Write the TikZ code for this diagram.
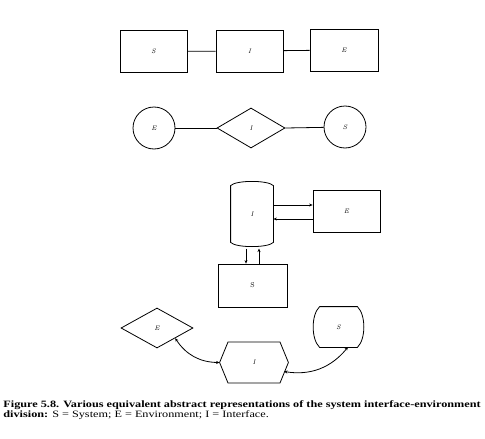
\documentclass[tikz,border=0pt]{standalone}
\usepackage{fontspec}
\newfontfamily\capfont[FakeStretch=1.26]{Liberation Serif}
\usetikzlibrary{shapes.geometric,arrows.meta}
\begin{document}
\begin{tikzpicture}[x=1pt,y=1pt,
  line width=0.8pt,
  >={Stealth[length=3.5pt,width=3pt]},
  lbl/.style={font=\fontsize{6.5}{6.5}\selectfont\itshape},
  boxnode/.style={draw,rectangle,minimum width=67pt,minimum height=42pt,inner sep=0pt,lbl},
  circnode/.style={draw,circle,minimum size=42pt,inner sep=0pt,lbl},
  dmnode/.style={draw,diamond,inner sep=0pt,lbl},
  plain/.style={inner sep=0pt,lbl},
  captxt/.style={anchor=base west,inner sep=0pt,font=\capfont\fontsize{9.7}{10}\selectfont}]
\useasboundingbox (0,0) rectangle (485,-439);
% Row 1
\node[boxnode] (S1) at (153.5,-51.5) {S};
\node[boxnode] (I1) at (249.5,-51) {I};
\node[boxnode,minimum width=68pt] (E1) at (344,-50) {E};
\draw (S1) -- (I1);
\draw (I1) -- (E1);
% Row 2
\node[circnode] (E2) at (154,-128) {E};
\node[dmnode,minimum width=68pt,minimum height=40pt] (I2) at (251,-128) {I};
\node[circnode] (S2) at (345,-127) {S};
\draw (E2) -- (I2.west);
\draw (I2.east) -- (S2);
% Row 3
\node[plain,minimum width=42pt,minimum height=56pt] (I3) at (252,-214) {I};
\draw (I3.north west) .. controls (236,-180) and (268,-180) .. (I3.north east)
  -- (I3.south east) .. controls (268,-248) and (236,-248) .. (I3.south west) -- cycle;
\node[boxnode] (E3) at (346.5,-211) {E};
\node[boxnode,minimum width=69pt,minimum height=43pt,font=\fontsize{7}{7}\selectfont] (S3) at (252.5,-285.5) {S};
\draw[->] (I3.east |- 0,-205) -- (E3.west |- 0,-205);
\draw[->] (E3.west |- 0,-219) -- (I3.east |- 0,-219);
\draw[->] (246,-248.5) coordinate (d1) -- (d1 |- S3.north);
\draw[->] (S3.north -| 259,0) -- (259,-248.5) coordinate (u1);
% Row 4
\node[dmnode,minimum width=72pt,minimum height=40pt] (E4) at (157,-328) {E};
\node[plain,minimum width=68pt,minimum height=41pt] (I4) at (254,-362.5) {I};
\draw (I4.west) -- (228,-342) -- (280,-342) -- (I4.east) -- (280,-383) -- (228,-383) -- cycle;
\node[plain,minimum width=37pt,minimum height=40pt] (S4) at (338.5,-327) {S};
\draw (S4.north west) -- (S4.north east) .. controls (366,-315) and (366,-339) .. (S4.south east)
  -- (S4.south west) .. controls (311,-339) and (311,-315) .. (S4.north west);
\coordinate (i4r) at (284,-371.5);
\coordinate (s4b) at (348,-347);
\draw[<->] (E4.south east) to[bend right=28] (I4.west);
\draw[<->] (i4r) to[bend right=30] (s4b);
% Caption
\node[captxt] (cap1) at (3,-407) {\bfseries Figure 5.8. Various equivalent abstract representations of the system interface-environment};
\node[captxt] (cap2) at (3,-417) {\bfseries division: \mdseries S = System; E = Environment; I = Interface.};
\end{tikzpicture}
\end{document}
